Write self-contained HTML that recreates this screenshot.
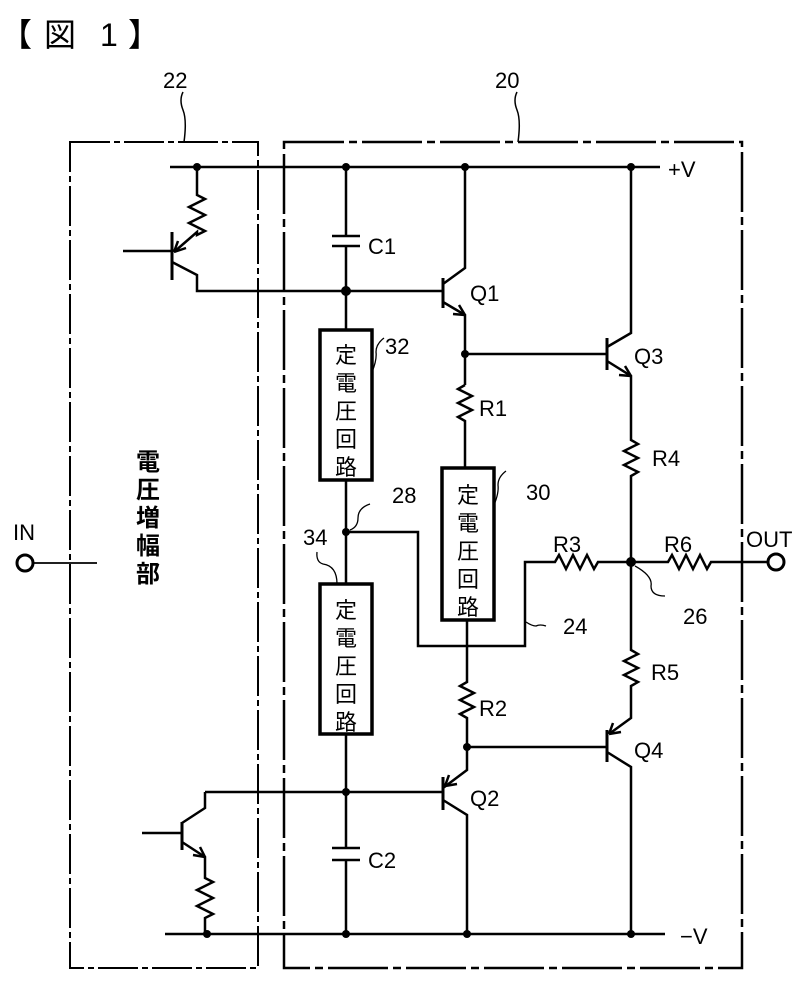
<!DOCTYPE html>
<html><head><meta charset="utf-8"><style>
html,body{margin:0;padding:0;background:#fff;}
svg{display:block;}
text{font-family:"Liberation Sans","Noto Sans CJK JP",sans-serif;fill:#000;}
.j{font-family:"Noto Sans CJK JP",sans-serif;font-weight:bold;}
</style></head><body>
<svg width="808" height="982" viewBox="0 0 808 982" xmlns="http://www.w3.org/2000/svg">
<g stroke="#000" fill="none" stroke-width="2.5">
<rect x="70" y="142" width="188" height="826" stroke-width="2" stroke-dasharray="40,4,6,4"/>
<rect x="284" y="142" width="458" height="826" stroke-width="2.5" stroke-dasharray="60,5,8,5"/>
<path d="M183 92 q-4 8 0 18 q4 10 1 32" stroke-width="1.5"/>
<path d="M517 92 q-4 8 0 18 q4 10 1 32" stroke-width="1.5"/>
<path d="M170 167 H660"/>
<path d="M165 934 H665"/>
<path d="M197 167 V195 l8 4 -16 8 16 8 -16 8 16 8 -8 4 V232 L174 252"/>
<path d="M172 232 V280" stroke-width="3"/>
<path d="M123 251 H172"/>
<path d="M172 262 L197 275 V291 H443"/>
<path d="M174 252 l12 -4 M174 252 l4 -11"/>
<path d="M346 167 V236 M332 236 H360 M332 246 H360 M346 246 V330"/>
<rect x="320" y="330" width="52" height="150" stroke-width="3.5"/>
<path d="M346 480 V584"/>
<rect x="320" y="584" width="52" height="150" stroke-width="3.5"/>
<path d="M346 734 V848 M332 848 H360 M332 860 H360 M346 860 V934"/>
<path d="M443 278 V308" stroke-width="3"/>
<path d="M465 167 V268 L443 284 M443 302 L465 315 V385"/>
<path d="M465 315 l-12 -1 M465 315 l-6 -10"/>
<path d="M465 354 H607"/>
<path d="M465 385 l-7 4 14 7 -14 7 14 7 -14 7 7 4 V468"/>
<rect x="442" y="468" width="52" height="152" stroke-width="3.5"/>
<path d="M467 620 V682 l-7 4 14 7 -14 7 14 7 -14 7 7 4 V770 L443 788 M443 800 L467 815 V934"/>
<path d="M445 786 l12 -2 M445 786 l4 -11"/>
<path d="M443 777 V810" stroke-width="3"/>
<path d="M205 792 H443"/>
<path d="M607 338 V370" stroke-width="3"/>
<path d="M631 167 V333 L607 347 M607 361 L631 376 V440 l7 4 -14 7 14 7 -14 7 14 7 -7 4 V650 l7 4 -14 7 14 7 -14 7 14 7 -7 4 V718 L609 734 M607 752 L631 767 V934"/>
<path d="M631 376 l-12 -1 M631 376 l-6 -10"/>
<path d="M609 734 l12 -2 M609 734 l4 -11"/>
<path d="M607 730 V762" stroke-width="3"/>
<path d="M467 747 H607"/>
<path d="M346 532 H418 V646 H525 V562 H555 l4 -7 7 14 7 -14 7 14 7 -14 7 14 4 -7 H668 l4 -7 7 14 7 -14 7 14 7 -14 7 14 4 -7 H768"/>
<circle cx="776" cy="562" r="8" stroke-width="3"/>
<circle cx="25" cy="563" r="8" stroke-width="3"/>
<path d="M33 563 H97" stroke-width="1.8"/>
<path d="M182 822 V850" stroke-width="3"/>
<path d="M142 833 H182"/>
<path d="M205 792 V808 L182 823 M182 842 L205 857 V878 l8 4 -16 8 16 8 -16 8 16 8 -8 4 V934"/>
<path d="M205 857 l-12 -2 M205 857 l-5 -10"/>
<path d="M372 372 q5 -12 4 -20 q0 -8 8 -14" stroke-width="1.3"/>
<path d="M494 505 q5 -12 4 -20 q0 -8 8 -14" stroke-width="1.3"/>
<path d="M350 530 q8 -3 8 -12 q0 -10 12 -14" stroke-width="1.3"/>
<path d="M317 552 q-1 10 6 12 q14 2 14 20" stroke-width="1.3"/>
<path d="M526 622 q6 4 10 4 q4 -2 10 0" stroke-width="1.3"/>
<path d="M635 566 q18 10 16 20 q0 10 14 10" stroke-width="1.3"/>
</g>
<g fill="#000">
<circle cx="197" cy="167" r="4"/><circle cx="346" cy="167" r="4"/><circle cx="465" cy="167" r="4"/><circle cx="631" cy="167" r="4"/>
<circle cx="346" cy="291" r="5"/><circle cx="465" cy="354" r="4"/><circle cx="346" cy="532" r="4"/>
<circle cx="631" cy="562" r="5"/><circle cx="467" cy="747" r="4"/><circle cx="346" cy="792" r="4"/>
<circle cx="207" cy="934" r="4"/><circle cx="346" cy="934" r="4"/><circle cx="467" cy="934" r="4"/><circle cx="631" cy="934" r="4"/>
</g>
<g font-size="32" font-family="Noto Sans CJK JP, sans-serif">
<text x="0" y="46">【</text><text x="44" y="46">図</text><text x="100" y="46">1</text><text x="128" y="46">】</text>
</g>
<g font-size="22">
<text x="163" y="88">22</text>
<text x="495" y="88">20</text>
<text x="668" y="177">+V</text>
<text x="680" y="944">−V</text>
<text x="368" y="254">C1</text>
<text x="368" y="868">C2</text>
<text x="470" y="301">Q1</text>
<text x="634" y="364">Q3</text>
<text x="470" y="806">Q2</text>
<text x="634" y="758">Q4</text>
<text x="479" y="416">R1</text>
<text x="479" y="716">R2</text>
<text x="553" y="552">R3</text>
<text x="652" y="466">R4</text>
<text x="651" y="680">R5</text>
<text x="664" y="552">R6</text>
<text x="746" y="547">OUT</text>
<text x="13" y="540">IN</text>
<text x="385" y="354">32</text>
<text x="526" y="500">30</text>
<text x="392" y="503">28</text>
<text x="303" y="545">34</text>
<text x="563" y="634">24</text>
<text x="683" y="624">26</text>
</g>
<g font-size="22" font-family="Noto Sans CJK JP, sans-serif" text-anchor="middle">
<text x="346" y="363">定</text><text x="346" y="391">電</text><text x="346" y="419">圧</text><text x="346" y="447">回</text><text x="346" y="475">路</text>
<text x="346" y="618">定</text><text x="346" y="646">電</text><text x="346" y="674">圧</text><text x="346" y="702">回</text><text x="346" y="730">路</text>
<text x="468" y="503">定</text><text x="468" y="531">電</text><text x="468" y="559">圧</text><text x="468" y="587">回</text><text x="468" y="615">路</text>
</g>
<g font-size="24" class="j" text-anchor="middle">
<text x="148" y="470">電</text><text x="148" y="498">圧</text><text x="148" y="526">増</text><text x="148" y="554">幅</text><text x="148" y="582">部</text>
</g>
</svg>
</body></html>
